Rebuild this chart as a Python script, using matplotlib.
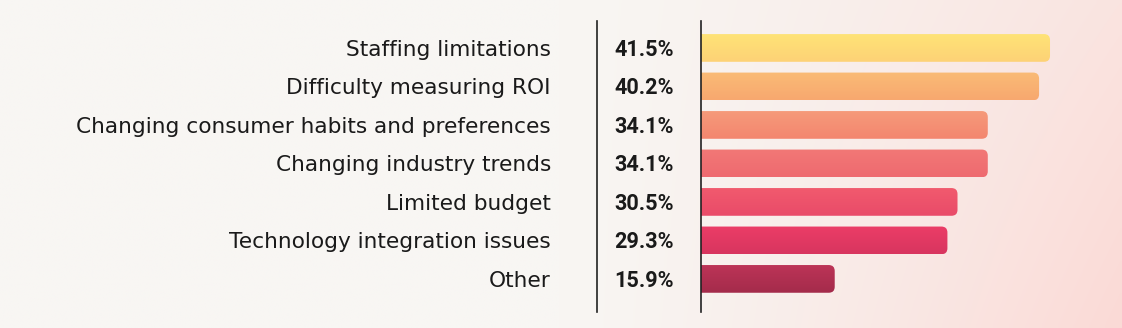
import numpy as np
import matplotlib
matplotlib.use("Agg")
import matplotlib.pyplot as plt
from matplotlib.patches import FancyBboxPatch
from matplotlib.colors import LinearSegmentedColormap, to_rgb
from matplotlib.transforms import blended_transform_factory
from matplotlib.lines import Line2D

categories = ["Staffing limitations", "Difficulty measuring ROI",
              "Changing consumer habits and preferences", "Changing industry trends",
              "Limited budget", "Technology integration issues", "Other"]
values = [41.5, 40.2, 34.1, 34.1, 30.5, 29.3, 15.9]
value_labels = ["41.5%", "40.2%", "34.1%", "34.1%", "30.5%", "29.3%", "15.9%"]
top_colors = ["#ffe376", "#fabb76", "#f69a7a", "#f27876", "#f15a6e", "#eb3d67", "#bc3457"]
bottom_colors = ["#fdd277", "#f7a86f", "#f3866f", "#ee6a70", "#e94b69", "#d8355f", "#a42b4b"]

W, H = 1122, 328
fig = plt.figure(figsize=(W / 100, H / 100), dpi=100)

# background gradient
bg = fig.add_axes([0, 0, 1, 1], zorder=0)
bg.set_axis_off()
xs = np.linspace(0, 1, 300)
ys = np.linspace(0, 1, 60)
X, Y = np.meshgrid(xs, ys)
c_left = np.array(to_rgb("#f8f6f3"))
c_tr = np.array(to_rgb("#fae4e0"))
c_br = np.array(to_rgb("#fbdad6"))
t = np.clip((X - 0.5) / 0.5, 0, 1) ** 1.3
right = c_tr[None, None, :] * (1 - Y[..., None]) + c_br[None, None, :] * Y[..., None]
img = c_left[None, None, :] * (1 - t[..., None]) + right * t[..., None]
bg.imshow(img, extent=[0, 1, 1, 0], aspect="auto", interpolation="bilinear")
bg.set_xlim(0, 1)
bg.set_ylim(1, 0)

# bar axes
x0, x1 = 701, 1101
y_top, y_bot = 21, 312
ax = fig.add_axes([x0 / W, 1 - y_bot / H, (x1 - x0) / W, (y_bot - y_top) / H], zorder=2)
ax.patch.set_alpha(0)
ax.set_axis_off()
px_per_unit = 8.41
ax.set_xlim(0, (x1 - x0) / px_per_unit)
ax.set_ylim(6.86, -0.70)

ypos = np.arange(len(categories))
bar_h = 0.72
bars = ax.barh(ypos, values, height=bar_h, color="none", edgecolor="none")

ux = (x1 - x0) / px_per_unit / (x1 - x0)  # data per px in x
uy = (6.86 + 0.70) / (y_bot - y_top)      # data per px in y
r_px = 6
for i, b in enumerate(bars):
    bx, by, bw, bh = b.get_x(), b.get_y(), b.get_width(), b.get_height()
    patch = FancyBboxPatch((bx - 2 * r_px * ux, by), bw + 2 * r_px * ux, bh,
                           boxstyle=f"round,pad=0,rounding_size={r_px * ux}",
                           mutation_aspect=uy / ux, facecolor="none", edgecolor="none")
    ax.add_patch(patch)
    cmap = LinearSegmentedColormap.from_list("g", [top_colors[i], bottom_colors[i]])
    grad = np.linspace(0, 1, 50).reshape(-1, 1)
    im = ax.imshow(grad, cmap=cmap, extent=[bx, bx + bw, by + bh, by],
                   aspect="auto", interpolation="bilinear", zorder=3)
    im.set_clip_path(patch)

ax.set_xlim(0, (x1 - x0) / px_per_unit)
ax.set_ylim(6.86, -0.70)

trans = blended_transform_factory(fig.transFigure, ax.transData)
for i, (cat, lab) in enumerate(zip(categories, value_labels)):
    ax.text(551 / W, ypos[i] + 0.05, cat, transform=trans, ha="right", va="center",
            fontsize=15.6, family="DejaVu Sans", color="#1a1a1a")
    ax.text(614 / W, ypos[i] + 0.05, lab, transform=trans, ha="left", va="center",
            fontsize=15.6, family="Roboto", fontweight="bold", color="#1a1a1a")

for xp in (597, 700.5):
    fig.add_artist(Line2D([xp / W, xp / W], [1 - y_top / H, 1 - y_bot / H],
                          transform=fig.transFigure, color="#222222", lw=1.2, zorder=5))

fig.savefig("out.png", dpi=100)
